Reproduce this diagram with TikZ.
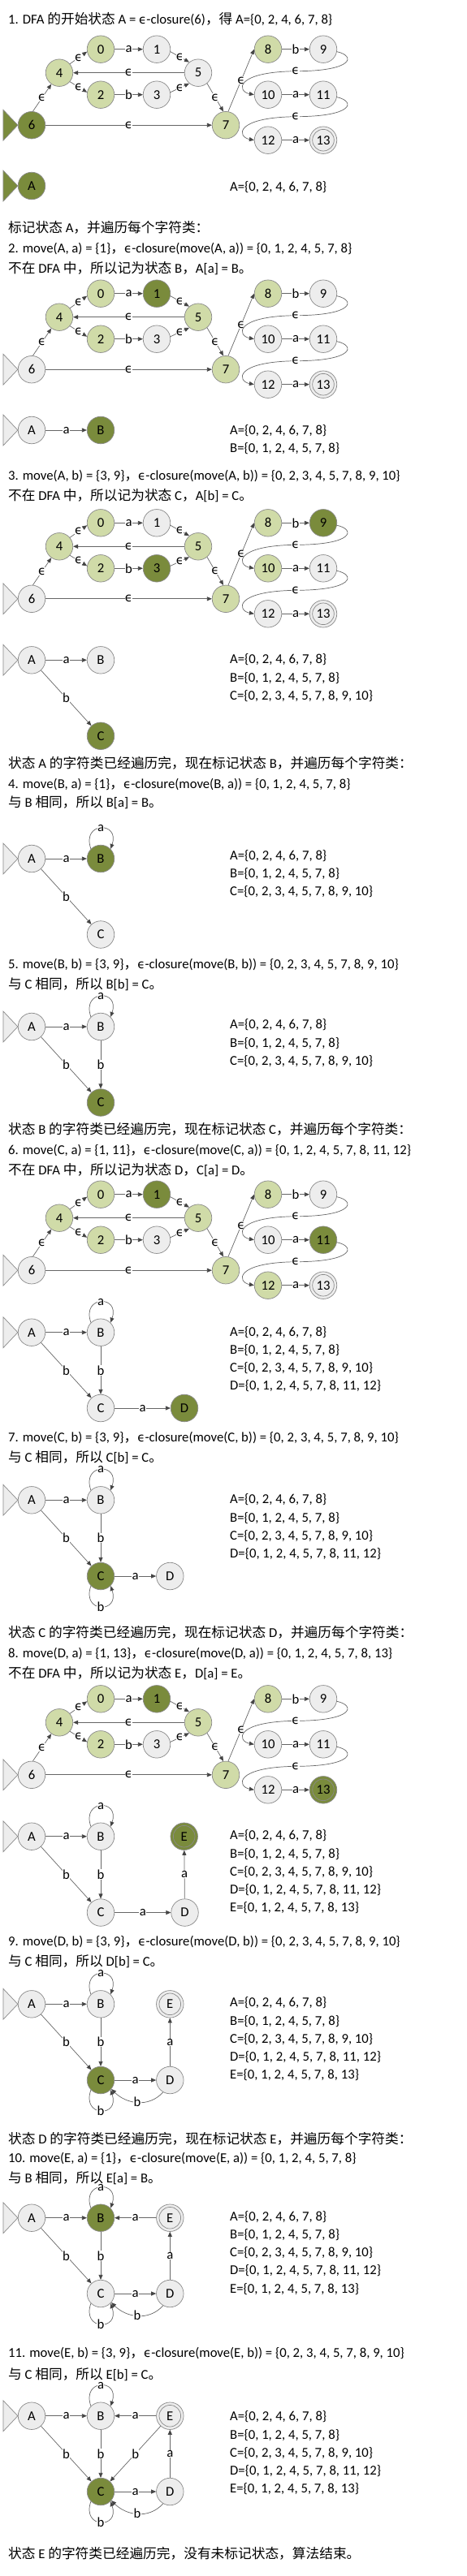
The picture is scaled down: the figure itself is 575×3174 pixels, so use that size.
\documentclass[tikz,border=0pt]{standalone}
\usepackage{fontspec}
\setmainfont{Carlito}
\newfontfamily\cjk{Noto Sans CJK SC}
\newfontfamily\dejavu[Scale=0.9]{DejaVu Sans}
\usetikzlibrary{arrows.meta}
\definecolor{bordc}{HTML}{8A8A8A}
\definecolor{grayc}{HTML}{EDEDED}
\definecolor{lgreen}{HTML}{D0DBA8}
\definecolor{dgreen}{HTML}{7A8B3C}
\definecolor{edgec}{HTML}{666666}
\definecolor{tipc}{HTML}{444444}
\newcommand\zh[1]{{\cjk #1}}
\newcommand\eps{{\dejavu ϵ}}
\newcommand\txtsize{\fontsize{16.7}{20}\selectfont}
\tikzset{
  st/.style={circle, draw=bordc, line width=0.7pt, minimum size=33.5pt, inner sep=0pt, font=\txtsize},
  gn/.style={st, fill=grayc},
  lg/.style={st, fill=lgreen},
  dg/.style={st, fill=dgreen},
  conn/.style={draw=edgec, line width=0.7pt, -{Triangle[length=6pt,width=5pt,fill=tipc,color=tipc]}},
  lbl/.style={font=\txtsize, fill=white, inner sep=0.3pt},
  txt/.style={font=\txtsize, anchor=base west, inner sep=0pt},
  tri/.style={draw=bordc, line width=0.7pt},
  tri6/.style={fill=grayc},
  s0/.style={gn}, s1/.style={gn}, s2/.style={gn}, s3/.style={gn}, s4/.style={gn},
  s5/.style={gn}, s6/.style={gn}, s7/.style={gn}, s8/.style={gn}, s9/.style={gn},
  s10/.style={gn}, s11/.style={gn}, s12/.style={gn}, s13/.style={gn}
}
\newcommand\startmark[2]{\draw[tri,#2] ([xshift=-18pt,yshift=19pt]#1.west) -- (#1.west) -- ([xshift=-18pt,yshift=-19pt]#1.west) -- cycle;}
\newcommand\accring[1]{\draw[bordc, line width=0.7pt] (#1.center) circle[radius=13.3pt];}
\newcommand\loopup[2]{\draw[conn] (#1.135) .. controls +(-12,-34) and +(12,-34) .. (#1.45) node[lbl,pos=0.5]{#2};}
\newcommand\loopdown[2]{\draw[conn] (#1.-135) .. controls +(-12,34) and +(12,34) .. (#1.-45) node[lbl,pos=0.5]{#2};}
\newcommand\T[3]{\node[txt] (#1) at (10,#2) {#3};}
\newcommand\SetLine[3]{\node[txt] (#1) at (283,#2) {#3};}
\newcommand\sA{A=\{0, 2, 4, 6, 7, 8\}}
\newcommand\sB{B=\{0, 1, 2, 4, 5, 7, 8\}}
\newcommand\sC{C=\{0, 2, 3, 4, 5, 7, 8, 9, 10\}}
\newcommand\sD{D=\{0, 1, 2, 4, 5, 7, 8, 11, 12\}}
\newcommand\sE{E=\{0, 1, 2, 4, 5, 7, 8, 13\}}
\newcommand\Sets[3]{%
  \SetLine{#1a}{#2}{\sA}
  \ifnum#3>1 \SetLine{#1b}{#2+22.3}{\sB}\fi
  \ifnum#3>2 \SetLine{#1c}{#2+44.6}{\sC}\fi
  \ifnum#3>3 \SetLine{#1d}{#2+66.9}{\sD}\fi
  \ifnum#3>4 \SetLine{#1e}{#2+89.2}{\sE}\fi}
\newcommand\NFA[3]{%
\begin{scope}[shift={(0,#2)}, #3]
\node[s0] (#1-0) at (124,0) {0};
\node[s1] (#1-1) at (193,0) {1};
\node[s4] (#1-4) at (73,29) {4};
\node[s5] (#1-5) at (244,29) {5};
\node[s2] (#1-2) at (124,56) {2};
\node[s3] (#1-3) at (193,56) {3};
\node[s6] (#1-6) at (39,93.5) {6};
\node[s7] (#1-7) at (278,93.5) {7};
\node[s8] (#1-8) at (330,0) {8};
\node[s9] (#1-9) at (398,0) {9};
\node[s10] (#1-10) at (330,56) {10};
\node[s11] (#1-11) at (398,56) {11};
\node[s12] (#1-12) at (330,112) {12};
\node[s13] (#1-13) at (398,112) {13};
\accring{#1-13}
\startmark{#1-6}{tri6}
\draw[conn] (#1-0) -- node[lbl]{a} (#1-1);
\draw[conn] (#1-2) -- node[lbl]{b} (#1-3);
\draw[conn] (#1-4.40) -- node[lbl]{\eps} (#1-0.190);
\draw[conn] (#1-4.-40) -- node[lbl]{\eps} (#1-2.170);
\draw[conn] (#1-1.-10) -- node[lbl]{\eps} (#1-5.130);
\draw[conn] (#1-3.10) -- node[lbl]{\eps} (#1-5.-130);
\draw[conn] (#1-5) -- node[lbl]{\eps} (#1-4);
\draw[conn] (#1-6.85) -- node[lbl]{\eps} (#1-4.-125);
\draw[conn] (#1-6) -- node[lbl]{\eps} (#1-7);
\draw[conn] (#1-5.-50) -- node[lbl]{\eps} (#1-7.100);
\draw[conn] (#1-7.80) -- node[lbl]{\eps} (#1-8.west);
\draw[conn] (#1-8) -- node[lbl]{b} (#1-9);
\draw[conn] (#1-10) -- node[lbl]{a} (#1-11);
\draw[conn] (#1-12) -- node[lbl]{a} (#1-13);
\draw[conn] (#1-9.-10) .. controls (438,8) and (436,27) .. (364,27) node[lbl]{\eps} .. controls (288,28) and (292,52) .. (#1-10.west);
\draw[conn] (#1-11.-10) .. controls (438,64) and (436,83) .. (364,83) node[lbl]{\eps} .. controls (288,84) and (292,108) .. (#1-12.west);
\end{scope}}
\begin{document}
\begin{tikzpicture}[x=1pt,y=-1pt]
\fill[white] (0,0) rectangle (575,3174);
\useasboundingbox (0,0) rectangle (575,3174);
% ---------- step 1
\T{t1}{29.3}{1. DFA \zh{的开始状态} A = \eps-closure(6)\zh{，得} A=\{0, 2, 4, 6, 7, 8\}}
\NFA{n1}{60.7}{s6/.style={dg}, tri6/.style={fill=dgreen}, s0/.style={lg}, s2/.style={lg}, s4/.style={lg}, s7/.style={lg}, s8/.style={lg}}
\node[dg] (d1A) at (39,229) {A}; \startmark{d1A}{fill=dgreen}
\Sets{u1}{235.3}{1}
% ---------- step 2
\T{t2}{286}{\zh{标记状态} A\zh{，并遍历每个字符类：}}
\T{t3}{311}{2. move(A, a) = \{1\}\zh{，}\eps-closure(move(A, a)) = \{0, 1, 2, 4, 5, 7, 8\}}
\T{t4}{336}{\zh{不在} DFA \zh{中，所以记为状态} B\zh{，}A[a] = B\zh{。}}
\NFA{n2}{361.7}{s1/.style={dg}, s0/.style={lg}, s2/.style={lg}, s4/.style={lg}, s5/.style={lg}, s7/.style={lg}, s8/.style={lg}}
\node[gn] (d2A) at (39,530) {A}; \startmark{d2A}{fill=grayc}
\node[dg] (d2B) at (124,530) {B};
\draw[conn] (d2A) -- node[lbl]{a} (d2B);
\Sets{u2}{535}{2}
% ---------- step 3
\T{t5}{591}{3. move(A, b) = \{3, 9\}\zh{，}\eps-closure(move(A, b)) = \{0, 2, 3, 4, 5, 7, 8, 9, 10\}}
\T{t6}{616}{\zh{不在} DFA \zh{中，所以记为状态} C\zh{，}A[b] = C\zh{。}}
\NFA{n3}{644.3}{s3/.style={dg}, s9/.style={dg}, s0/.style={lg}, s2/.style={lg}, s4/.style={lg}, s5/.style={lg}, s7/.style={lg}, s8/.style={lg}, s10/.style={lg}}
\node[gn] (d3A) at (39,813.3) {A}; \startmark{d3A}{fill=grayc}
\node[gn] (d3B) at (124,813.3) {B};
\node[dg] (d3C) at (124,906.8) {C};
\draw[conn] (d3A) -- node[lbl]{a} (d3B);
\draw[conn] (d3A) -- node[lbl]{b} (d3C);
\Sets{u3}{817.7}{3}
% ---------- step 4
\T{t7}{946}{\zh{状态} A \zh{的字符类已经遍历完，现在标记状态} B\zh{，并遍历每个字符类：}}
\T{t8}{971}{4. move(B, a) = \{1\}\zh{，}\eps-closure(move(B, a)) = \{0, 1, 2, 4, 5, 7, 8\}}
\T{t9}{994.3}{\zh{与} B \zh{相同，所以} B[a] = B\zh{。}}
\node[gn] (d4A) at (39,1058) {A}; \startmark{d4A}{fill=grayc}
\node[dg] (d4B) at (124,1058) {B};
\node[gn] (d4C) at (124,1151.5) {C};
\draw[conn] (d4A) -- node[lbl]{a} (d4B);
\draw[conn] (d4A) -- node[lbl]{b} (d4C);
\loopup{d4B}{a}
\Sets{u4}{1059}{3}
% ---------- step 5
\T{t10}{1193}{5. move(B, b) = \{3, 9\}\zh{，}\eps-closure(move(B, b)) = \{0, 2, 3, 4, 5, 7, 8, 9, 10\}}
\T{t11}{1218}{\zh{与} C \zh{相同，所以} B[b] = C\zh{。}}
\node[gn] (d5A) at (39,1265) {A}; \startmark{d5A}{fill=grayc}
\node[gn] (d5B) at (124,1265) {B};
\node[dg] (d5C) at (124,1358.5) {C};
\draw[conn] (d5A) -- node[lbl]{a} (d5B);
\draw[conn] (d5A) -- node[lbl]{b} (d5C);
\draw[conn] (d5B) -- node[lbl]{b} (d5C);
\loopup{d5B}{a}
\Sets{u5}{1267.7}{3}
% ---------- step 6
\T{t12}{1397.7}{\zh{状态} B \zh{的字符类已经遍历完，现在标记状态} C\zh{，并遍历每个字符类：}}
\T{t13}{1422.7}{6. move(C, a) = \{1, 11\}\zh{，}\eps-closure(move(C, a)) = \{0, 1, 2, 4, 5, 7, 8, 11, 12\}}
\T{t14}{1447.7}{\zh{不在} DFA \zh{中，所以记为状态} D\zh{，}C[a] = D\zh{。}}
\NFA{n6}{1471.7}{s1/.style={dg}, s11/.style={dg}, s0/.style={lg}, s2/.style={lg}, s4/.style={lg}, s5/.style={lg}, s7/.style={lg}, s8/.style={lg}, s12/.style={lg}}
\node[gn] (d6A) at (39,1641.7) {A}; \startmark{d6A}{fill=grayc}
\node[gn] (d6B) at (124,1641.7) {B};
\node[gn] (d6C) at (124,1735) {C};
\node[dg] (d6D) at (227,1735) {D};
\draw[conn] (d6A) -- node[lbl]{a} (d6B);
\draw[conn] (d6A) -- node[lbl]{b} (d6C);
\draw[conn] (d6B) -- node[lbl]{b} (d6C);
\draw[conn] (d6C) -- node[lbl]{a} (d6D);
\loopup{d6B}{a}
\Sets{u6}{1646}{4}
% ---------- step 7
\T{t15}{1776}{7. move(C, b) = \{3, 9\}\zh{，}\eps-closure(move(C, b)) = \{0, 2, 3, 4, 5, 7, 8, 9, 10\}}
\T{t16}{1801}{\zh{与} C \zh{相同，所以} C[b] = C\zh{。}}
\node[gn] (d7A) at (39,1848.3) {A}; \startmark{d7A}{fill=grayc}
\node[gn] (d7B) at (124,1848.3) {B};
\node[dg] (d7C) at (124,1942) {C};
\node[gn] (d7D) at (209.3,1942) {D};
\draw[conn] (d7A) -- node[lbl]{a} (d7B);
\draw[conn] (d7A) -- node[lbl]{b} (d7C);
\draw[conn] (d7B) -- node[lbl]{b} (d7C);
\draw[conn] (d7C) -- node[lbl]{a} (d7D);
\loopup{d7B}{a}
\loopdown{d7C}{b}
\Sets{u7}{1852.7}{4}
% ---------- step 8
\T{t17}{2017.7}{\zh{状态} C \zh{的字符类已经遍历完，现在标记状态} D\zh{，并遍历每个字符类：}}
\T{t18}{2042.7}{8. move(D, a) = \{1, 13\}\zh{，}\eps-closure(move(D, a)) = \{0, 1, 2, 4, 5, 7, 8, 13\}}
\T{t19}{2067.7}{\zh{不在} DFA \zh{中，所以记为状态} E\zh{，}D[a] = E\zh{。}}
\NFA{n8}{2093.3}{s1/.style={dg}, s13/.style={dg}, s0/.style={lg}, s2/.style={lg}, s4/.style={lg}, s5/.style={lg}, s7/.style={lg}, s8/.style={lg}}
\node[gn] (d8A) at (39,2262.7) {A}; \startmark{d8A}{fill=grayc}
\node[gn] (d8B) at (124,2262.7) {B};
\node[dg] (d8E) at (226.7,2262.7) {E}; \accring{d8E}
\node[gn] (d8C) at (124,2356.5) {C};
\node[gn] (d8D) at (227.5,2356.5) {D};
\draw[conn] (d8A) -- node[lbl]{a} (d8B);
\draw[conn] (d8A) -- node[lbl]{b} (d8C);
\draw[conn] (d8B) -- node[lbl]{b} (d8C);
\draw[conn] (d8C) -- node[lbl]{a} (d8D);
\draw[conn] (d8D) -- node[lbl]{a} (d8E);
\loopup{d8B}{a}
\Sets{u8}{2266.7}{5}
% ---------- step 9
\T{t20}{2397.7}{9. move(D, b) = \{3, 9\}\zh{，}\eps-closure(move(D, b)) = \{0, 2, 3, 4, 5, 7, 8, 9, 10\}}
\T{t21}{2422.7}{\zh{与} C \zh{相同，所以} D[b] = C\zh{。}}
\node[gn] (d9A) at (39,2469.3) {A}; \startmark{d9A}{fill=grayc}
\node[gn] (d9B) at (124,2469.3) {B};
\node[gn] (d9E) at (209.3,2469.3) {E}; \accring{d9E}
\node[dg] (d9C) at (124,2563) {C};
\node[gn] (d9D) at (209.3,2563) {D};
\draw[conn] (d9A) -- node[lbl]{a} (d9B);
\draw[conn] (d9A) -- node[lbl]{b} (d9C);
\draw[conn] (d9B) -- node[lbl]{b} (d9C);
\draw[conn] (d9C) -- node[lbl]{a} (d9D);
\draw[conn] (d9D) -- node[lbl]{a} (d9E);
\loopup{d9B}{a}
\loopdown{d9C}{b}
\draw[conn] (d9D.-120) .. controls +(-18,20) and +(18,18) .. (d9C.-40) node[lbl,pos=0.5]{b};
\Sets{u9}{2472.7}{5}
% ---------- step 10
\T{t22}{2641}{\zh{状态} D \zh{的字符类已经遍历完，现在标记状态} E\zh{，并遍历每个字符类：}}
\T{t23}{2664.3}{10. move(E, a) = \{1\}\zh{，}\eps-closure(move(E, a)) = \{0, 1, 2, 4, 5, 7, 8\}}
\T{t24}{2689.3}{\zh{与} B \zh{相同，所以} E[a] = B\zh{。}}
\node[gn] (d10A) at (39,2732.7) {A}; \startmark{d10A}{fill=grayc}
\node[dg] (d10B) at (124,2732.7) {B};
\node[gn] (d10E) at (209.3,2732.7) {E}; \accring{d10E}
\node[gn] (d10C) at (124,2826) {C};
\node[gn] (d10D) at (209.3,2826) {D};
\draw[conn] (d10A) -- node[lbl]{a} (d10B);
\draw[conn] (d10A) -- node[lbl]{b} (d10C);
\draw[conn] (d10B) -- node[lbl]{b} (d10C);
\draw[conn] (d10C) -- node[lbl]{a} (d10D);
\draw[conn] (d10D) -- node[lbl]{a} (d10E);
\draw[conn] (d10E) -- node[lbl]{a} (d10B);
\loopup{d10B}{a}
\loopdown{d10C}{b}
\draw[conn] (d10D.-120) .. controls +(-18,20) and +(18,18) .. (d10C.-40) node[lbl,pos=0.5]{b};
\Sets{u10}{2736}{5}
% ---------- step 11
\T{t25}{2904.3}{11. move(E, b) = \{3, 9\}\zh{，}\eps-closure(move(E, b)) = \{0, 2, 3, 4, 5, 7, 8, 9, 10\}}
\T{t26}{2931}{\zh{与} C \zh{相同，所以} E[b] = C\zh{。}}
\node[gn] (d11A) at (39,2976.7) {A}; \startmark{d11A}{fill=grayc}
\node[gn] (d11B) at (124,2976.7) {B};
\node[gn] (d11E) at (209.3,2976.7) {E}; \accring{d11E}
\node[dg] (d11C) at (124,3070) {C};
\node[gn] (d11D) at (209.3,3070) {D};
\draw[conn] (d11A) -- node[lbl]{a} (d11B);
\draw[conn] (d11A) -- node[lbl]{b} (d11C);
\draw[conn] (d11B) -- node[lbl]{b} (d11C);
\draw[conn] (d11C) -- node[lbl]{a} (d11D);
\draw[conn] (d11D) -- node[lbl]{a} (d11E);
\draw[conn] (d11E) -- node[lbl]{a} (d11B);
\draw[conn] (d11E) -- node[lbl]{b} (d11C);
\loopup{d11B}{a}
\loopdown{d11C}{b}
\draw[conn] (d11D.-120) .. controls +(-18,20) and +(18,18) .. (d11C.-40) node[lbl,pos=0.5]{b};
\Sets{u11}{2982.7}{5}
\T{t27}{3152.7}{\zh{状态} E \zh{的字符类已经遍历完，没有未标记状态，算法结束。}}
\end{tikzpicture}
\end{document}
